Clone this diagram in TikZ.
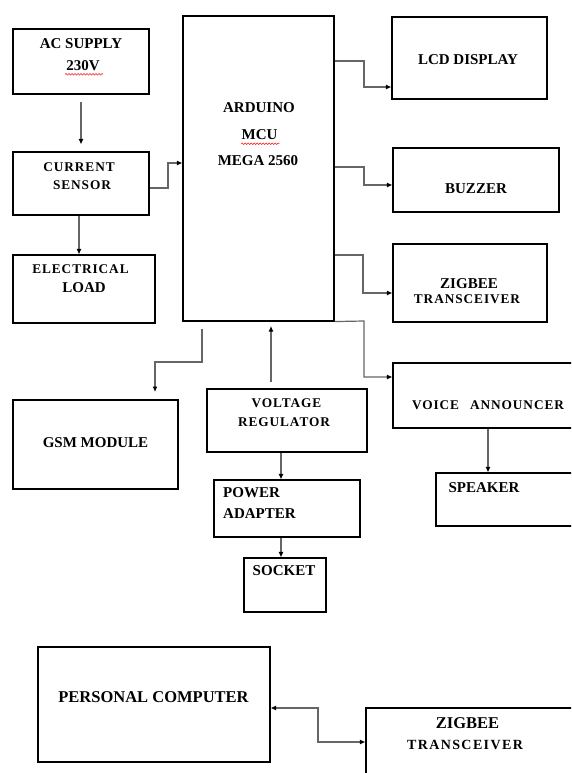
\documentclass[tikz,border=0pt]{standalone}
\usepackage{fontspec}
\setmainfont{Liberation Serif}
\newfontfamily\spfont[LetterSpace=7]{Liberation Serif}
\newfontfamily\spwfont[LetterSpace=10]{Liberation Serif}
\usetikzlibrary{arrows.meta,decorations.pathmorphing}
\begin{document}
\begin{tikzpicture}[x=1pt,y=-1pt,
  box/.style={draw=black, line width=1.1pt, inner sep=0pt, rectangle},
  lbl/.style={inner sep=0pt, font=\bfseries\fontsize{15}{18}\selectfont},
  big/.style={inner sep=0pt, font=\bfseries\fontsize{16.5}{19}\selectfont},
  spc/.style={inner sep=0pt, font=\spfont\bfseries\fontsize{13.3}{16}\selectfont},
  spcw/.style={inner sep=0pt, font=\spwfont\bfseries\fontsize{14}{16}\selectfont},
  arr/.style={draw=black!60, line width=1.2pt, -{Latex[length=5.5pt,width=5pt,black]}},
  darr/.style={draw=black!60, line width=1.2pt, {Latex[length=5.5pt,width=5pt,black]}-{Latex[length=5.5pt,width=5pt,black]}},
  wavy/.style={draw=red, line width=0.5pt, decorate, decoration={snake, amplitude=0.8pt, segment length=3pt}}]
\clip (0,0) rectangle (571,773);
\fill[white] (0,0) rectangle (571,773);

% boxes
\node[box, minimum width=136pt, minimum height=65pt] (ac) at (81,61.5) {};
\node[box, minimum width=136pt, minimum height=63pt] (cs) at (81,183.5) {};
\node[box, minimum width=142pt, minimum height=68pt] (el) at (84,289) {};
\node[box, minimum width=151pt, minimum height=305pt] (ard) at (258.5,168.5) {};
\node[box, minimum width=155pt, minimum height=82pt] (lcd) at (469.5,58) {};
\node[box, minimum width=166pt, minimum height=64pt] (buz) at (476,180) {};
\node[box, minimum width=154pt, minimum height=78pt] (zig) at (470,283) {};
\node[box, minimum width=207pt, minimum height=65pt] (voice) at (496.5,395.5) {};
\node[box, minimum width=164pt, minimum height=53pt] (spk) at (518,499.5) {};
\node[box, minimum width=165pt, minimum height=89pt] (gsm) at (95.5,444.5) {};
\node[box, minimum width=160pt, minimum height=63pt] (vr) at (287,420.5) {};
\node[box, minimum width=146pt, minimum height=57pt] (pa) at (287,508.5) {};
\node[box, minimum width=82pt, minimum height=54pt] (sock) at (285,585) {};
\node[box, minimum width=232pt, minimum height=115pt] (pc) at (154,704.5) {};
\node[box, minimum width=234pt, minimum height=92pt] (zig2) at (483,754) {};

% texts
\node[lbl] (tac1) at (81,44) {AC SUPPLY};
\node[lbl] (tac2) at (83,66) {230V};
\node[spc] (tcs1) at (79,167) {CURRENT};
\node[spc] (tcs2) at (82,185.5) {SENSOR};
\node[spc] (tel1) at (80.5,269) {ELECTRICAL};
\node[lbl] (tel2) at (84,288) {LOAD};
\node[lbl] (tar1) at (259,107.5) {ARDUINO};
\node[lbl] (tar2) at (259.5,134.5) {MCU};
\node[lbl] (tar3) at (258,161) {MEGA 2560};
\node[lbl] (tlcd) at (468,60) {LCD DISPLAY};
\node[lbl] (tbuz) at (476,189) {BUZZER};
\node[lbl] (tzg1) at (469,284) {ZIGBEE};
\node[spc] (tzg2) at (467,299) {TRANSCEIVER};
\node[spc] (tvoi) at (488,405.5) {VOICE\hspace{11pt}ANNOUNCER};
\node[lbl] (tspk) at (484,488) {SPEAKER};
\node[lbl] (tgsm) at (95.5,443) {GSM MODULE};
\node[spc] (tvr1) at (286.5,403) {VOLTAGE};
\node[spc] (tvr2) at (284,422) {REGULATOR};
\node[lbl, anchor=west] (tpa1) at (223,493) {POWER};
\node[lbl, anchor=west] (tpa2) at (223,513.5) {ADAPTER};
\node[lbl] (tsock) at (284,571) {SOCKET};
\node[big] (tpc) at (153.5,697) {PERSONAL COMPUTER};
\node[big] (tzz1) at (467.5,723) {ZIGBEE};
\node[spcw] (tzz2) at (465,745) {TRANSCEIVER};

% spell-check underlines
\draw[wavy] (tac2.south west) ++(-1,3) -- ++(38,0);
\draw[wavy] (tar2.south west) ++(0,4) -- ++(38,0);

% free-end coordinates
\coordinate (g0) at (202,329);
\coordinate (g1) at (155,392);
\coordinate (v0) at (271,382);
\coordinate (v1) at (271,326);

% connectors
\draw[arr] ([yshift=-7pt]ac.south) -- ([yshift=7pt]cs.north);
\draw[arr] (cs.east |- 0,188) -- (168,188) |- (ard.west |- 0,163);
\draw[arr] (cs.south -| 79,0) -- (el.north -| 79,0);
\draw[arr] (ard.east |- 0,61) -- (364,61) |- (lcd.west |- 0,87);
\draw[arr] (ard.east |- 0,167) -- (364,167) |- (buz.west |- 0,185);
\draw[arr] (ard.east |- 0,255) -- (363,255) |- (zig.west |- 0,293);
\draw[arr] (ard.south east) -- (364,321) |- (voice.west |- 0,377);
\draw[arr] (g0) |- (155,362) -- (g1);
\draw[arr] (v0) -- (v1);
\draw[arr] (vr.south -| 281,0) -- (pa.north -| 281,0);
\draw[arr] (pa.south -| 281,0) -- (sock.north -| 281,0);
\draw[arr] (voice.south -| 488,0) -- (spk.north -| 488,0);
\draw[darr] (pc.east |- 0,708) -- (318,708) |- (zig2.west |- 0,742);
\end{tikzpicture}
\end{document}
